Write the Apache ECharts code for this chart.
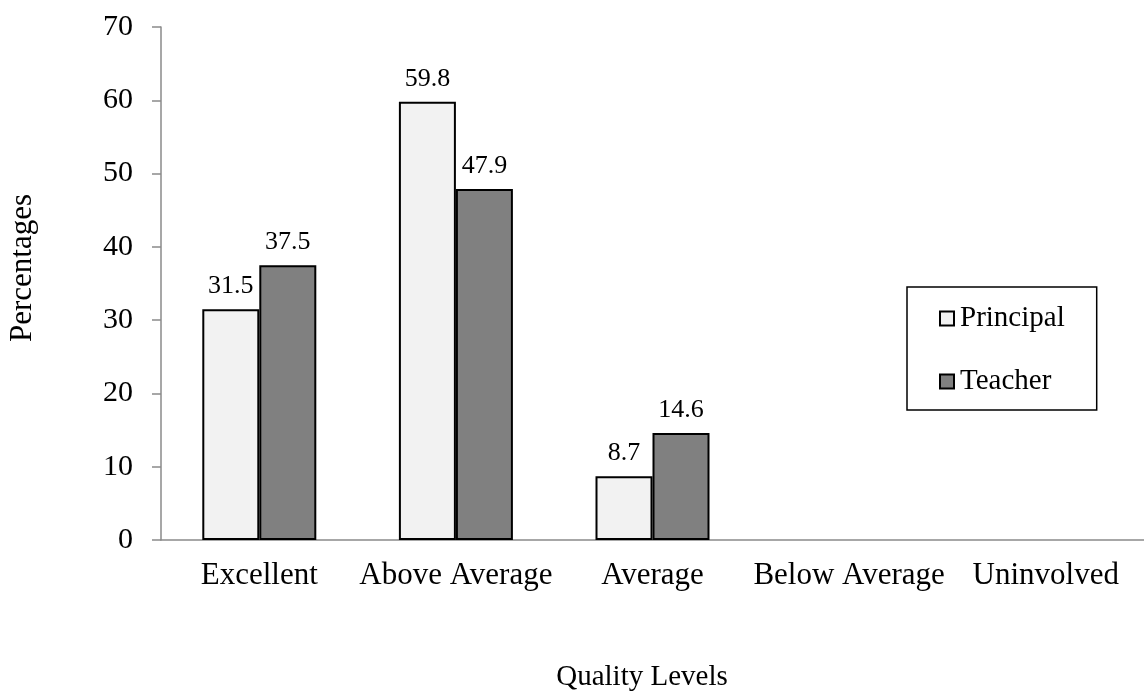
<!DOCTYPE html>
<html>
<head>
<meta charset="utf-8">
<script src="https://cdn.jsdelivr.net/npm/echarts@6/dist/echarts.min.js"></script>
<style>html,body{margin:0;padding:0;background:#fff}#c{width:1144px;height:692px}</style>
</head>
<body>
<div id="c"></div>
<script>
const categories = ['Excellent', 'Above Average', 'Average', 'Below Average', 'Uninvolved'];
const principal = [31.5, 59.8, 8.7, null, null];
const teacher = [37.5, 47.9, 14.6, null, null];
const yTicks = [0, 10, 20, 30, 40, 50, 60, 70];
const seriesNames = ['Principal', 'Teacher'];
const xTitle = 'Quality Levels';
const yTitle = 'Percentages';

const FONT = '"Liberation Serif", "Times New Roman", serif';
const chart = echarts.init(document.getElementById('c'), null, {renderer: 'canvas'});
const labelOpt = {show: true, position: 'top', distance: 10, color: '#000', fontFamily: FONT, fontSize: 26};
chart.setOption({
  animation: false,
  backgroundColor: '#fff',
  grid: {left: 161, top: 27, bottom: 152, width: 991, containLabel: false},
  legend: {
    orient: 'vertical', left: 907, top: 287,
    padding: [17, 32, 14, 32], itemGap: 34,
    itemWidth: 14, itemHeight: 14, icon: 'rect',
    borderColor: '#000', borderWidth: 1.5,
    textStyle: {fontFamily: FONT, fontSize: 29, color: '#000', padding: [0, 0, 0, 1]},
    data: seriesNames
  },
  xAxis: {
    type: 'category', data: categories,
    axisLine: {lineStyle: {color: '#8a8a8a', width: 1.5}},
    axisTick: {length: 8, lineStyle: {color: '#8a8a8a', width: 1.5}},
    axisLabel: {interval: 0, margin: 20, fontFamily: FONT, fontSize: 31, color: '#000'}
  },
  yAxis: {
    type: 'value', min: yTicks[0], max: yTicks[yTicks.length - 1], interval: 10,
    splitLine: {show: false},
    axisLine: {show: true, lineStyle: {color: '#8a8a8a', width: 1.5}},
    axisTick: {show: true, length: 9, lineStyle: {color: '#8a8a8a', width: 1.5}},
    axisLabel: {margin: 28, fontFamily: FONT, fontSize: 30, color: '#000'}
  },
  graphic: [{
    type: 'text', x: 23, y: 268, rotation: Math.PI / 2,
    style: {text: yTitle, font: '31px ' + FONT, fill: '#000', align: 'center', verticalAlign: 'middle'}
  }, {
    type: 'text', x: 642, y: 677,
    style: {text: xTitle, font: '29px ' + FONT, fill: '#000', align: 'center', verticalAlign: 'middle'}
  }],
  series: [
    {name: seriesNames[0], type: 'bar', data: principal, barWidth: 57, barGap: '0%',
     itemStyle: {color: '#f2f2f2', borderColor: '#000', borderWidth: 2}, label: labelOpt},
    {name: seriesNames[1], type: 'bar', data: teacher, barWidth: 57, barGap: '0%',
     itemStyle: {color: '#808080', borderColor: '#000', borderWidth: 2}, label: labelOpt}
  ]
});
</script>
</body>
</html>
